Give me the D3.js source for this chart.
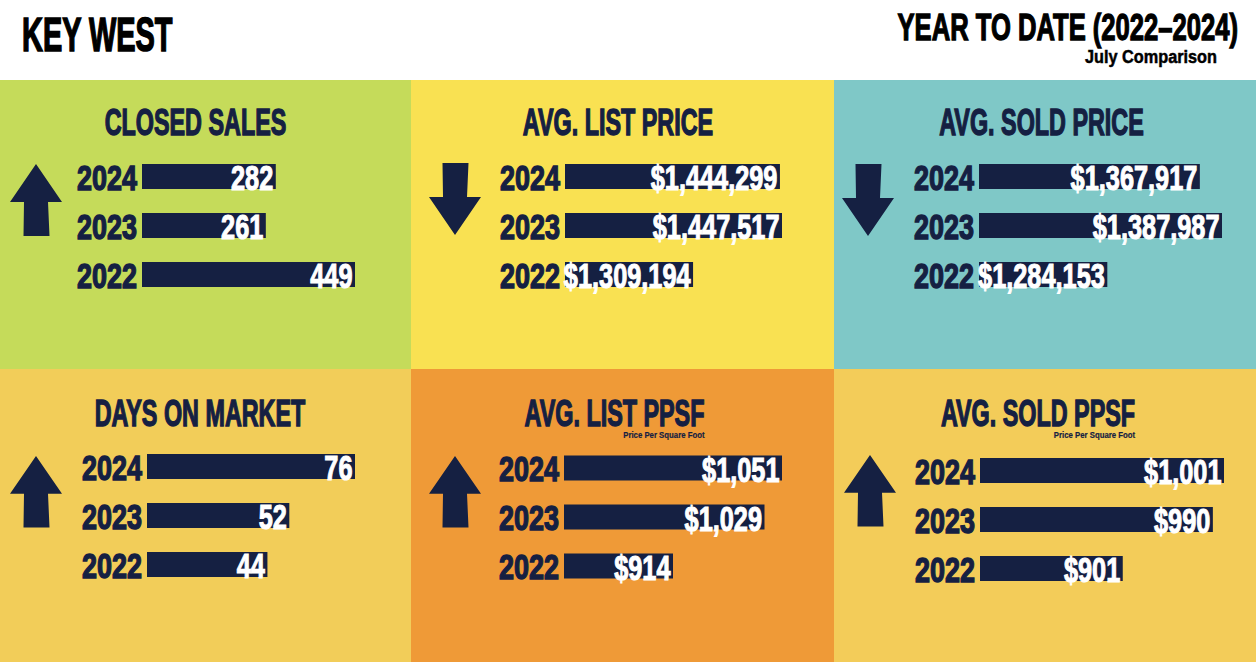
<!DOCTYPE html>
<html>
<head>
<meta charset="utf-8">
<script src="https://cdn.jsdelivr.net/npm/d3@7"></script>
<style>
  html, body { margin: 0; padding: 0; background: #ffffff; }
  svg { display: block; }
  text { font-family: "Liberation Sans Narrow", "Liberation Sans", sans-serif; font-weight: bold; }
</style>
</head>
<body>
<svg id="chart" width="1256" height="662"></svg>
<script>
// ---------------- DATA ----------------
const headerTitle = "KEY WEST";
const periodTitle = "YEAR TO DATE (2022–2024)";
const periodSubtitle = "July Comparison";

const years = ["2024", "2023", "2022"];

const panelTitles = ["CLOSED SALES", "AVG. LIST PRICE", "AVG. SOLD PRICE",
                     "DAYS ON MARKET", "AVG. LIST PPSF", "AVG. SOLD PPSF"];
const panelSubtitles = ["", "", "", "", "Price Per Square Foot", "Price Per Square Foot"];

const closedSales  = [282, 261, 449];
const avgListPrice = [1444299, 1447517, 1309194];
const avgSoldPrice = [1367917, 1387987, 1284153];
const daysOnMarket = [76, 52, 44];
const avgListPpsf  = [1051, 1029, 914];
const avgSoldPpsf  = [1001, 990, 901];

const panelValues  = [closedSales, avgListPrice, avgSoldPrice, daysOnMarket, avgListPpsf, avgSoldPpsf];
const panelFormats = [",", "$,", "$,", ",", "$,", "$,"];

// ---------------- LAYOUT / STYLE ----------------
const W = 1256, H = 662;
const headerH = 80, rowSplit = 369;
const colEdges = [0, 411, 834, 1256];
const navy = "#152042";
const panelColors = ["#c5db5a", "#f9e152", "#7fc8c7", "#f2cd59", "#ef9a37", "#f3cc59"];
const barStart   = [142, 565, 979, 147, 564, 980];
const barMaxW    = [213, 217, 243, 208, 218, 244];
const scaleFloor = [0, 1110000, 1168000, 0, 777, 760];
const rowOffset  = [96.5, 96.5, 96.5, 97.5, 99, 101.5];
const rowSpan    = 98;
const titleDx    = [-10, -4.5, -3.5, -5.5, -8, -7];
const arrowPos   = [[10, 164], [429, 163], [842, 164], [10, 456], [429, 456], [844, 455]];
const barH = 25;

const svg = d3.select("#chart");

// calibrate horizontal condensation to whichever font is actually used
const probe = svg.append("text").attr("font-size", 100).text("0000");
const k = 182.4 / probe.node().getComputedTextLength();
probe.remove();

// Header
svg.append("rect").attr("x", 0).attr("y", 0).attr("width", W).attr("height", headerH).attr("fill", "#ffffff");
svg.append("text")
  .attr("transform", `translate(22,50.5) scale(${0.72 * k},1)`)
  .attr("font-size", 49).attr("fill", "#000").attr("stroke", "#000").attr("stroke-width", 1.6)
  .text(headerTitle);
svg.append("text")
  .attr("transform", `translate(1238,40) scale(${0.853 * k},1)`)
  .attr("text-anchor", "end")
  .attr("font-size", 36.6).attr("fill", "#000").attr("stroke", "#000").attr("stroke-width", 1.3)
  .text(periodTitle);
svg.append("text")
  .attr("transform", `translate(1217,62.5) scale(${1.08 * k},1)`)
  .attr("text-anchor", "end")
  .attr("font-size", 18.4).attr("fill", "#000").attr("stroke", "#000").attr("stroke-width", 0.5)
  .text(periodSubtitle);

// Arrow shape (up), box 52 x h
function arrowPath(up, x, y, h) {
  const hb = 38 * h / 72;
  const pts = [[26, 0], [52, hb], [38, hb], [39.5, h], [13.5, h], [14, hb], [0, hb]];
  const p = pts.map(([px, py]) => [x + px, up ? y + py : y + h - py]);
  return d3.line()(p) + "Z";
}

panelValues.forEach((vals, i) => {
  const col = i % 3, row = Math.floor(i / 3);
  const x0 = colEdges[col], x1 = colEdges[col + 1];
  const y0 = row === 0 ? headerH : rowSplit;
  const y1 = row === 0 ? rowSplit : H;
  const g = svg.append("g");

  g.append("rect").attr("x", x0).attr("y", y0).attr("width", x1 - x0).attr("height", y1 - y0)
    .attr("fill", panelColors[i]);

  // title
  const tcx = (x0 + x1) / 2 + titleDx[i];
  const tBase = y0 + (row === 0 ? 55 : 56.5);
  const tsx = 0.77 * k;
  const title = g.append("text")
    .attr("transform", `translate(${tcx},${tBase}) scale(${tsx},1)`)
    .attr("text-anchor", "middle")
    .attr("font-size", 37).attr("fill", navy).attr("stroke", navy).attr("stroke-width", 1.4)
    .text(panelTitles[i]);
  if (panelSubtitles[i]) {
    const tw = title.node().getComputedTextLength() * tsx;
    g.append("text")
      .attr("transform", `translate(${tcx + tw / 2},${tBase + 12.5}) scale(${k},1)`)
      .attr("text-anchor", "end")
      .attr("font-size", 9.5).attr("fill", navy).attr("stroke", navy).attr("stroke-width", 0.2)
      .text(panelSubtitles[i]);
  }

  // scales
  const yScale = d3.scalePoint().domain(years).range([y0 + rowOffset[i], y0 + rowOffset[i] + rowSpan]);
  const xScale = d3.scaleLinear().domain([scaleFloor[i], d3.max(vals)]).range([0, barMaxW[i]]);
  const fmt = d3.format(panelFormats[i]);
  const bx = barStart[i];

  years.forEach((yr, j) => {
    const cy = yScale(yr);
    const w = xScale(vals[j]);
    g.append("rect")
      .attr("x", bx).attr("y", cy - barH / 2).attr("width", w).attr("height", barH)
      .attr("fill", navy);
    g.append("text")
      .attr("transform", `translate(${bx - 5},${cy + barH / 2 + 0.5}) scale(${0.94 * k},1)`)
      .attr("text-anchor", "end")
      .attr("font-size", 35).attr("fill", navy).attr("stroke", navy).attr("stroke-width", 1.4)
      .text(yr);
    g.append("text")
      .attr("transform", `translate(${bx + w - 2.5},${cy + barH / 2 + 1}) scale(${0.87 * k},1)`)
      .attr("text-anchor", "end")
      .attr("font-size", 35.5).attr("fill", "#ffffff").attr("stroke", "#ffffff").attr("stroke-width", 1.1)
      .text(fmt(vals[j]));
  });

  // trend arrow: compare latest year with the previous year
  const up = vals[0] >= vals[1];
  const [ax, ay] = arrowPos[i];
  g.append("path").attr("d", arrowPath(up, ax, ay, row === 0 ? 72 : 71.5)).attr("fill", navy);
});
</script>
</body>
</html>
